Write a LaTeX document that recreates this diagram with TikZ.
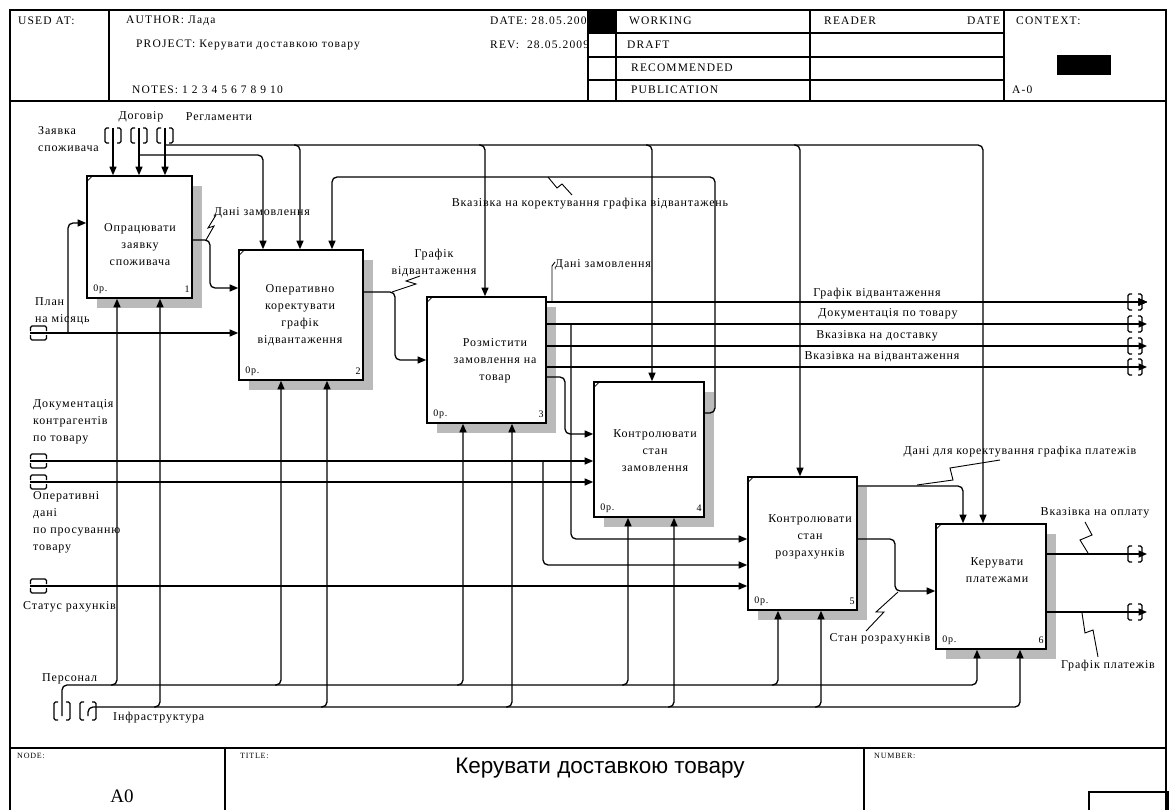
\documentclass[tikz,border=0pt]{standalone}
\usepackage{fontspec}
\setmainfont{Liberation Serif}
\newfontfamily\lf[LetterSpace=7]{Liberation Serif}
\newfontfamily\hf[LetterSpace=10]{Liberation Serif}
\newfontfamily\tf{Liberation Sans}
\usetikzlibrary{arrows.meta}
\newcommand\tunV[3]{%
  \draw[tun] (#1-4,#2) -- (#1-8,#2) -- (#1-8,#3) -- (#1-4,#3);
  \draw[tun] (#1+4,#2) -- (#1+8,#2) -- (#1+8,#3) -- (#1+4,#3);}
\newcommand\tunH[2]{%
  \draw[tun] (#1-8,#2-2) -- (#1-8,#2-7) -- (#1+8,#2-7) -- (#1+8,#2-2);
  \draw[tun] (#1-8,#2+2) -- (#1-8,#2+7) -- (#1+8,#2+7) -- (#1+8,#2+2);}
\newcommand\tunR[1]{%
  \draw[tun] (1132,#1-8) -- (1128,#1-8) -- (1128,#1+8) -- (1132,#1+8);
  \draw[tun] (1138,#1-8) -- (1142,#1-8) -- (1142,#1+8) -- (1138,#1+8);}
\begin{document}
\begin{tikzpicture}[x=1pt,y=-1pt,
  conn/.style={line width=1.3pt, rounded corners=5pt},
  arr/.style={conn,-{Triangle[length=8.5pt,width=7pt]}},
  fbox/.style={draw, line width=1.6pt, fill=white, inner sep=0pt},
  shd/.style={fill=black!27},
  lbl/.style={font=\lf\fontsize{12}{17}\selectfont, inner sep=0pt, align=center},
  llbl/.style={lbl, align=left, anchor=west},
  hdr/.style={font=\hf\fontsize{11.5}{13}\selectfont, inner sep=0pt, anchor=west},
  tiny/.style={font=\hf\fontsize{8}{9}\selectfont, inner sep=0pt, anchor=west},
  cnr/.style={font=\lf\fontsize{10}{11}\selectfont, inner sep=0pt},
  tun/.style={line width=1.1pt, rounded corners=1.5pt},
  zz/.style={line width=0.9pt},
  frm/.style={line width=1.6pt}
]
\useasboundingbox (0,0) rectangle (1169,810);
\fill[white] (0,0) rectangle (1169,810);
% ---------- frame ----------
\draw[frm] (10,10) rectangle (1166,812);
\draw[frm] (10,101) -- (1166,101);
\draw[frm] (109,10) -- (109,101);
\draw[frm] (588,10) -- (588,101);
\draw[frm] (616,10) -- (616,101);
\draw[frm] (810,10) -- (810,101);
\draw[frm] (1004,10) -- (1004,101);
\foreach \yy in {33,57,80} \draw[frm] (588,\yy) -- (1004,\yy);
% header text
\node[hdr] (hUsed) at (18,21) {USED AT:};
\node[hdr] (hAuth) at (126,21) {AUTHOR: Лада};
\node[hdr] (hProj) at (136,45) {PROJECT: Керувати доставкою товару};
\node[hdr] (hNotes) at (132,90) {NOTES: 1 2 3 4 5 6 7 8 9 10};
\node[hdr] (hDate) at (490,21) {DATE: 28.05.2009};
\node[hdr] (hRev) at (490,45) {REV:\ \ 28.05.2009};
\fill[black] (588,10) rectangle (616,33);
\node[hdr] (hWork) at (629,21) {WORKING};
\node[hdr] (hDraft) at (627,45) {DRAFT};
\node[hdr] (hRec) at (631,68) {RECOMMENDED};
\node[hdr] (hPub) at (631,90) {PUBLICATION};
\node[hdr] (hRead) at (824,21) {READER};
\node[hdr] (hDate2) at (967,21) {DATE};
\node[hdr] (hCtx) at (1016,21) {CONTEXT:};
\node[hdr] (hA0) at (1012,90) {A-0};
\fill[black] (1057,55) rectangle (1111,75);
% footer
\draw[frm] (10,748) -- (1166,748);
\draw[frm] (225,748) -- (225,812);
\draw[frm] (864,748) -- (864,812);
\draw[frm] (1089,792) rectangle (1168,812);
\node[tiny] (fNode) at (17,756) {NODE:};
\node[tiny] (fTitle) at (240,756) {TITLE:};
\node[tiny] (fNum) at (874,756) {NUMBER:};
\node[font=\fontsize{19}{20}\selectfont, inner sep=0pt] (fA0) at (122,796) {A0};
\node[font=\tf\fontsize{22.5}{24}\selectfont, inner sep=0pt] (fT) at (600,768) {Керувати доставкою товару};
% ---------- shadows ----------
\fill[shd] (97,186) rectangle (202,308);
\fill[shd] (249,260) rectangle (373,390);
\fill[shd] (437,307) rectangle (556,433);
\fill[shd] (604,392) rectangle (714,527);
\fill[shd] (758,487) rectangle (867,620);
\fill[shd] (946,534) rectangle (1056,659);
% ---------- boxes ----------
\node[fbox, minimum width=105pt, minimum height=122pt] (b1) at (139.5,237) {};
\node[fbox, minimum width=124pt, minimum height=130pt] (b2) at (301,315) {};
\node[fbox, minimum width=119pt, minimum height=126pt] (b3) at (486.5,360) {};
\node[fbox, minimum width=110pt, minimum height=135pt] (b4) at (649,449.5) {};
\node[fbox, minimum width=109pt, minimum height=133pt] (b5) at (802.5,543.5) {};
\node[fbox, minimum width=110pt, minimum height=125pt] (b6) at (991,586.5) {};
\foreach \b/\n in {b1/1,b2/2,b3/3,b4/4,b5/5,b6/6}{
  \draw[line width=0.7pt] ([yshift=-7pt]\b.north west) -- ([xshift=7pt]\b.north west);
  \node[cnr, anchor=west] (\b z) at ([xshift=7pt,yshift=10pt]\b.south west) {0р.};
  \node[cnr, anchor=east] (\b n) at ([xshift=-3pt,yshift=10pt]\b.south east) {\n};
}
\node[lbl] (b1t) at (140,245) {Опрацювати\\заявку\\споживача};
\node[lbl] (b2t) at (300,315) {Оперативно\\коректувати\\графік\\відвантаження};
\node[lbl] (b3t) at (495,361) {Розмістити\\замовлення на\\товар};
\node[lbl] (b4t) at (655,451) {Контролювати\\стан\\замовлення};
\node[lbl] (b5t) at (810,537) {Контролювати\\стан\\розрахунків};
\node[lbl] (b6t) at (997,570) {Керувати\\платежами};
% ---------- controls ----------
\coordinate (tZ) at (113,128);
\coordinate (tD) at (139,128);
\coordinate (tR) at (165,128);
\tunV{113}{128}{143}
\tunV{139}{128}{143}
\tunV{165}{128}{143}
\draw[arr] (tZ) -- (tZ |- b1.north);
\draw[arr] (tD) -- (tD |- b1.north);
\draw[arr] (tR) -- (tR |- b1.north);
\coordinate (jD) at (139,155);
\draw[arr] (jD) -- (263,155) -- (263,0 |- b2.north);
\coordinate (jR) at (165,145);
\draw[arr] (jR) -- (983,145) -- (983,0 |- b6.north);
\foreach \x/\b in {300/b2,485/b3,652/b4,800/b5}
  \draw[arr] (\x-6,145) -- (\x,145) -- (\x,0 |- \b.north);
\draw[arr] (b4.east |- 0,413) -- (715,413) -- (715,177) -- (332,177) -- (332,0 |- b2.north);
% ---------- inputs ----------
\coordinate (tP) at (30,333);
\tunH{38.5}{333}
\draw[arr] (tP) -- (tP -| b2.west);
\draw[arr] (68,333) -- (68,223) -- (b1.west |- 0,223);
\draw[arr] (b1.east |- 0,240) -- (210,240) -- (210,288) -- (b2.west |- 0,288);
\draw[arr] (b2.east |- 0,292) -- (395,292) -- (395,360) -- (b3.west |- 0,360);
\coordinate (tDk) at (30,461);
\coordinate (tOp) at (30,482);
\coordinate (tSt) at (30,586);
\tunH{38.5}{461}
\tunH{38.5}{482}
\tunH{38.5}{586}
\draw[arr] (tDk) -- (tDk -| b4.west);
\draw[arr] (tOp) -- (tOp -| b4.west);
\draw[arr] (543,461) -- (543,565) -- (b5.west |- 0,565);
\draw[arr] (tSt) -- (tSt -| b5.west);
% ---------- outputs of box 3 ----------
\coordinate (o1) at (1147,302);
\coordinate (o2) at (1147,324);
\coordinate (o3) at (1147,346);
\coordinate (o4) at (1147,367);
\coordinate (o5) at (1147,554);
\coordinate (o6) at (1147,612);
\foreach \yy in {302,324,346,367,554,612} \tunR{\yy}
\draw[arr] (b3.east |- o1) -- (o1);
\draw[arr] (b3.east |- o2) -- (o2);
\draw[arr] (b3.east |- o3) -- (o3);
\draw[arr] (b3.east |- o4) -- (o4);
\draw[arr] (571,324) -- (571,539) -- (b5.west |- 0,539);
\draw[arr] (b3.east |- 0,377) -- (565,377) -- (565,434) -- (b4.west |- 0,434);
% ---------- outputs of box 5 and 6 ----------
\draw[arr] (b5.east |- 0,486) -- (963,486) -- (963,0 |- b6.north);
\draw[arr] (b5.east |- 0,539) -- (895,539) -- (895,591) -- (b6.west |- 0,591);
\draw[arr] (b6.east |- o5) -- (o5);
\draw[arr] (b6.east |- o6) -- (o6);
% ---------- mechanisms ----------
\coordinate (tPe) at (62,716);
\coordinate (tIn) at (88,716);
\tunV{62}{702}{720}
\tunV{88}{702}{720}
\draw[arr] (tPe) -- (62,685) -- (977,685) -- (977,0 |- b6.south);
\draw[arr] (tIn) -- (88,707) -- (1020,707) -- (1020,0 |- b6.south);
\foreach \x/\b in {117/b1,281/b2,463/b3,628/b4,778/b5}
  \draw[arr] (\x-6,685) -- (\x,685) -- (\x,0 |- \b.south);
\foreach \x/\b in {160/b1,327/b2,512/b3,674/b4,821/b5}
  \draw[arr] (\x-6,707) -- (\x,707) -- (\x,0 |- \b.south);
% ---------- labels ----------
\node[llbl] (lZ) at (38,139) {Заявка\\споживача};
\node[lbl] (lD) at (141,117) {Договір};
\node[lbl] (lR) at (219,117) {Регламенти};
\node[llbl] (lP) at (35,311) {План\\на місяць};
\node[lbl] (lDz1) at (262,213) {Дані замовлення};
\draw[zz] (206,240) -- (214,226) -- (208,228) -- (216,215);
\node[lbl] (lGv) at (434,263) {Графік\\відвантаження};
\draw[zz] (392,292) -- (416,284) -- (406,281) -- (420,276);
\node[lbl] (lVk) at (590,204) {Вказівка на коректування графіка відвантажень};
\draw[zz] (548,177) -- (557,188) -- (562,184) -- (572,195);
\node[lbl] (lDz2) at (603,265) {Дані замовлення};
\draw[zz] (555,262) -- (552,266) -- (552,302);
\node[lbl] (lO1) at (877,294) {Графік відвантаження};
\node[lbl] (lO2) at (888,314) {Документація по товару};
\node[lbl] (lO3) at (877,336) {Вказівка на доставку};
\node[lbl] (lO4) at (882,357) {Вказівка на відвантаження};
\node[llbl] (lDk) at (33,422) {Документація\\контрагентів\\по товару};
\node[llbl] (lOp) at (33,522) {Оперативні\\дані\\по просуванню\\товару};
\node[llbl] (lSt) at (23,607) {Статус рахунків};
\node[llbl] (lPe) at (42,679) {Персонал};
\node[llbl] (lIn) at (113,718) {Інфраструктура};
\node[lbl] (lDk2) at (1020,452) {Дані для коректування графіка платежів};
\draw[zz] (917,485) -- (953,480) -- (950,468) -- (1000,460);
\node[lbl] (lSr) at (880,639) {Стан розрахунків};
\draw[zz] (898,592) -- (876,612) -- (884,612) -- (866,631);
\node[lbl] (lVo) at (1095,513) {Вказівка на оплату};
\draw[zz] (1088,553) -- (1080,540) -- (1092,535) -- (1085,522);
\node[lbl] (lGp) at (1108,666) {Графік платежів};
\draw[zz] (1082,613) -- (1085,633) -- (1093,630) -- (1098,657);
\end{tikzpicture}
\end{document}
